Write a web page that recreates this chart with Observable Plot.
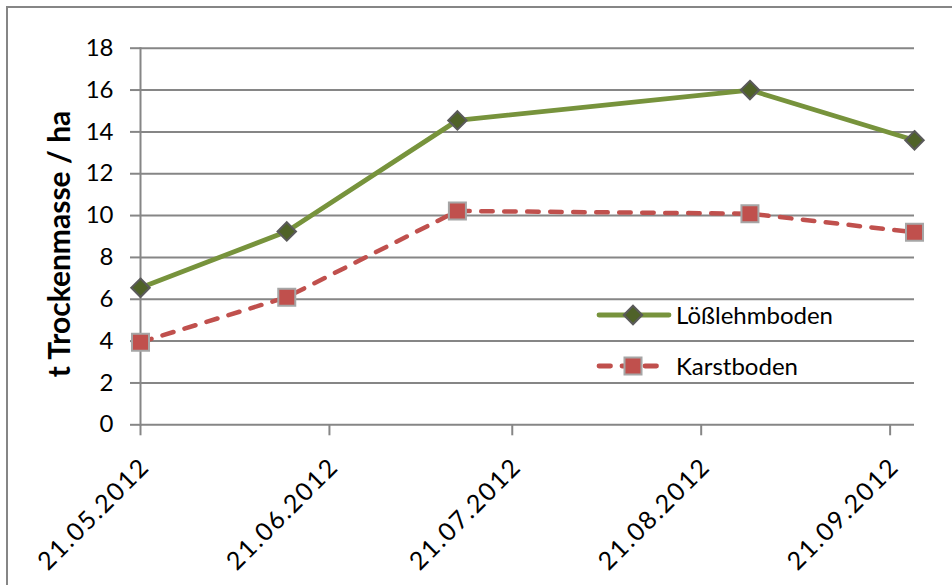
<!DOCTYPE html>
<html><head><meta charset="utf-8">
<script src="https://cdn.jsdelivr.net/npm/d3@7"></script>
<script src="https://cdn.jsdelivr.net/npm/@observablehq/plot@0.6"></script>
<style>
body{margin:0;background:#fff;}
#wrap{position:relative;width:952px;height:585px;overflow:hidden;font-family:Lato,sans-serif;color:#000;}
#frame{position:absolute;left:6px;top:6px;width:1000px;height:1000px;border-left:2px solid #868686;border-top:2px solid #868686;}
#chart{position:absolute;left:0;top:0;}
#ytitle{position:absolute;left:58px;top:244px;transform:translate(-50%,-50%) rotate(-90deg);font-weight:bold;font-size:30px;white-space:nowrap;line-height:1;}
#legend{position:absolute;left:0;top:0;pointer-events:none;}
</style></head><body>
<div id="wrap"><div id="frame"></div><div id="chart"></div><div id="ytitle">t Trockenmasse / ha</div>
<svg id="legend" width="952" height="585"></svg></div>
<script>
const sampleDates = ["2012-05-21","2012-06-14","2012-07-12","2012-08-29","2012-09-25"];
const loessValues = [6.55, 9.24, 14.55, 16.0, 13.6];
const karstValues = [3.95, 6.1, 10.22, 10.09, 9.2];
const seriesNames = ["Lößlehmboden","Karstboden"];
const xTickLabels = ["21.05.2012","21.06.2012","21.07.2012","21.08.2012","21.09.2012"];
const yTicks = [0,2,4,6,8,10,12,14,16,18];

const parseISO = d3.utcParse("%Y-%m-%d");
const parseDE = d3.utcParse("%d.%m.%Y");
const loess = sampleDates.map((d,i)=>({date:parseISO(d), value:loessValues[i]}));
const karst = sampleDates.map((d,i)=>({date:parseISO(d), value:karstValues[i]}));
const xTicks = xTickLabels.map(parseDE);

const grid = "#868686";
const green = "#77933C", greenDark = "#4F6228";
const red = "#C0504D";

const chart = Plot.plot({
  width: 952, height: 585,
  marginLeft: 140, marginRight: 38, marginTop: 47.7, marginBottom: 160.7,
  style: {fontFamily: "Lato, sans-serif", fontSize: "24px", color: "#000", background: "transparent"},
  x: {type: "utc", domain: [parseISO(sampleDates[0]), parseISO(sampleDates[4])]},
  y: {domain: [0, 18]},
  marks: [
    Plot.ruleY(yTicks, {stroke: grid, strokeWidth: 2}),
    Plot.axisY(yTicks, {tickSize: 10, tickPadding: 17, stroke: grid, strokeWidth: 2, fontSize: 24, label: null, fill: "#000"}),
    Plot.frame({anchor: "left", stroke: grid, strokeWidth: 2}),
    Plot.axisX(xTicks, {tickSize: 11, stroke: grid, strokeWidth: 2, fill: "none", label: null}),
    Plot.text(xTicks, {x: d => d, frameAnchor: "bottom", text: (d,i) => xTickLabels[i], rotate: -45, textAnchor: "end", lineAnchor: "bottom", dx: 10.5, dy: 43.5, fontSize: 25, fill: "#000"}),
    Plot.line(karst, {x: "date", y: "value", stroke: red, strokeWidth: 4.5, strokeDasharray: "11.5,11.5", strokeLinecap: "round"}),
    Plot.line(loess, {x: "date", y: "value", stroke: green, strokeWidth: 4.8}),
    Plot.dot(loess, {x: "date", y: "value", symbol: "diamond2", r: 8.3, fill: greenDark, stroke: "#5A5A5A", strokeWidth: 2}),
    Plot.dot(karst, {x: "date", y: "value", symbol: "square", r: 9.6, fill: red, stroke: "#A6A6A6", strokeWidth: 2})
  ]
});
d3.select(chart).selectAll("g[aria-label=text] text").attr("letter-spacing", "1.8px");
document.getElementById("chart").appendChild(chart);

// legend
const lg = d3.select("#legend");
const rows = [
  {name: seriesNames[0], y: 315, stroke: green, dash: null, x2: 669},
  {name: seriesNames[1], y: 366, stroke: red, dash: "11.5,11.5", x2: 661}
];
rows.forEach((r,i) => {
  const ln = lg.append("line").attr("x1", 599).attr("x2", r.x2).attr("y1", r.y).attr("y2", r.y)
    .attr("stroke", r.stroke).attr("stroke-width", 4.8).attr("stroke-linecap", "round");
  if (r.dash) ln.attr("stroke-dasharray", r.dash);
  const sym = i === 0 ? d3.symbol(d3.symbolDiamond2, Math.PI*8.3*8.3) : d3.symbol(d3.symbolSquare, Math.PI*9.6*9.6);
  lg.append("path").attr("d", sym()).attr("transform", `translate(633,${r.y})`)
    .attr("fill", i === 0 ? greenDark : red).attr("stroke", i === 0 ? "#5A5A5A" : "#A6A6A6").attr("stroke-width", 2);
  lg.append("text").attr("x", 676).attr("y", r.y + 8.5).attr("font-size", 24).attr("font-family", "Lato, sans-serif").text(r.name);
});
</script>
</body></html>
